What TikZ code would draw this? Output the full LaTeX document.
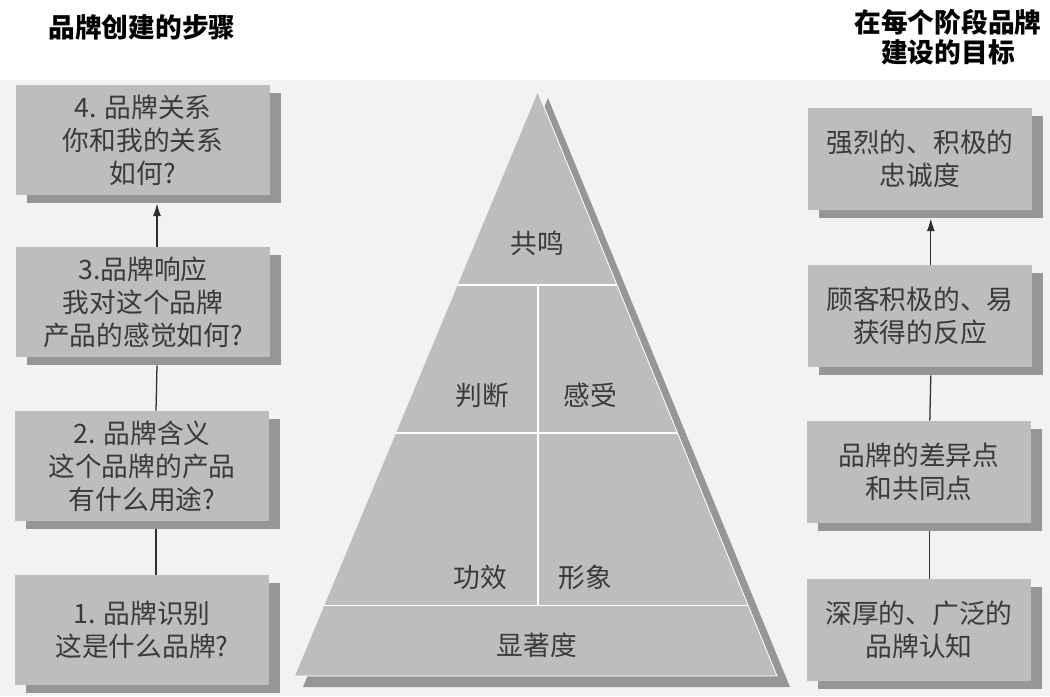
\documentclass[tikz,border=0pt]{standalone}
\usepackage{fontspec}
\usetikzlibrary{shadows,calc,arrows.meta}
\newfontfamily\cjk{Noto Sans CJK SC}
\definecolor{fond}{RGB}{189,189,189}
\definecolor{ombre}{RGB}{150,150,150}
\definecolor{encre}{RGB}{58,58,58}
\definecolor{papier}{RGB}{242,242,242}

\begin{document}
\begin{tikzpicture}[
    x=0.025cm, y=-0.025cm,
    every node/.style={font=\cjk\fontsize{19}{23.5}\selectfont, text=encre, align=center},
    etape/.style={fill=fond, minimum width=6.35cm, minimum height=2.75cm,
        drop shadow={shadow xshift=0.28cm, shadow yshift=-0.2cm, fill=ombre, opacity=1}},
    but/.style={etape, minimum width=5.6cm, minimum height=2.55cm},
    titre/.style={font=\cjk\bfseries\fontsize{19}{21.5}\selectfont, text=black},
    lien/.style={draw=encre!80!black, line width=0.9pt},
    fleche/.style={lien, -{Latex[length=3.2mm, width=2mm]}},
    coupe/.style={draw=white, line width=0.8pt}
    ]

    \useasboundingbox (0,0) rectangle (1050,696);
    \fill[papier] (0,80) rectangle (1050,696);

    % titres
    \node[titre] (titreG) at (142,27) {品牌创建的步骤};
    \node[titre] (titreD) at (948,37) {在每个阶段品牌\\建设的目标};

    % etapes
    \node[etape] (etape4) at (143,140) {4. 品牌关系\\你和我的关系\\如何?};
    \node[etape] (etape3) at (143,302) {3.品牌响应\\我对这个品牌\\产品的感觉如何?};
    \node[etape] (etape2) at (142,466) {2. 品牌含义\\这个品牌的产品\\有什么用途?};
    \node[etape] (etape1) at (142,630) {1. 品牌识别\\这是什么品牌?};

    % buts
    \node[but] (but4) at (920,159) {强烈的、积极的\\忠诚度};
    \node[but] (but3) at (920,316) {顾客积极的、易\\获得的反应};
    \node[but] (but2) at (919,472) {品牌的差异点\\和共同点};
    \node[but] (but1) at (919,630) {深厚的、广泛的\\品牌认知};

    \draw[lien] ([xshift=0.35cm]etape1.north) -- ([xshift=0.35cm,yshift=-0.2cm]etape2.south);
    \draw[lien] ([xshift=0.35cm]etape2.north) -- ([xshift=0.35cm,yshift=-0.2cm]etape3.south);
    \draw[fleche] ([xshift=0.35cm]etape3.north) -- ([xshift=0.35cm,yshift=-0.2cm]etape4.south);

    \draw[lien] ([xshift=0.27cm]but1.north) -- ([xshift=0.27cm,yshift=-0.2cm]but2.south);
    \draw[lien] ([xshift=0.27cm]but2.north) -- ([xshift=0.27cm,yshift=-0.2cm]but3.south);
    \draw[fleche] ([xshift=0.27cm]but3.north) -- ([xshift=0.27cm,yshift=-0.2cm]but4.south);

    % pyramide
    \coordinate (sommet) at (538,92);
    \coordinate (baseG) at (295,676);
    \coordinate (baseD) at (777,676);
    \fill[ombre] (548,98) -- (790,687) -- (303,687) -- cycle;
    \fill[fond] (sommet) -- (baseD) -- (baseG) -- cycle;
    \draw[coupe, line width=0.6pt] (sommet) -- (baseD) -- (baseG);
    \foreach \t in {0.3305,0.584,0.880}
        \draw[coupe] ($(sommet)!\t!(baseG)$) -- ($(sommet)!\t!(baseD)$);
    \draw[coupe] (538,285) -- (538,606);

    \node (resonance) at (537,243) {共鸣};
    \node (jugement) at (482,395) {判断};
    \node (sentiment) at (590,395) {感受};
    \node (efficacite) at (480,577) {功效};
    \node (image) at (585,577) {形象};
    \node (saillance) at (537,645) {显著度};
\end{tikzpicture}
\end{document}
